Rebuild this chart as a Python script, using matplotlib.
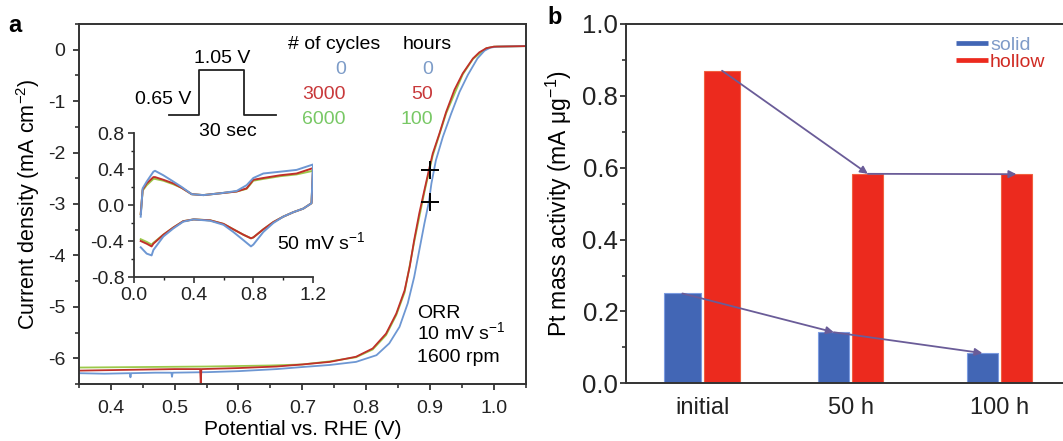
import matplotlib
matplotlib.use("Agg")
import matplotlib.pyplot as plt
from matplotlib.lines import Line2D
from matplotlib.ticker import MultipleLocator

plt.rcParams['font.family'] = ['Liberation Sans', 'DejaVu Sans']
plt.rcParams['mathtext.fontset'] = 'custom'
plt.rcParams['mathtext.rm'] = 'Liberation Sans'
plt.rcParams['mathtext.default'] = 'regular'
plt.rcParams['axes.unicode_minus'] = False

# ---- panel a: ORR polarisation curves ----
lsv_green_x = [0.35, 0.45, 0.55, 0.65, 0.70, 0.743, 0.784, 0.81, 0.831, 0.847, 0.86,
               0.875, 0.891, 0.904, 0.925, 0.951, 0.967, 0.988, 1.0, 1.05]
lsv_green_y = [-6.18, -6.17, -6.16, -6.14, -6.12, -6.06, -5.98, -5.83, -5.55, -5.16, -4.72,
               -3.74, -2.77, -2.06, -1.24, -0.48, -0.18, 0.03, 0.06, 0.07]

lsv_blue_x = [0.35, 0.39, 0.43, 0.431, 0.432, 0.47, 0.495, 0.496, 0.497, 0.55, 0.60, 0.66,
              0.70, 0.743, 0.784, 0.816, 0.836, 0.852, 0.865, 0.875, 0.883, 0.891, 0.898,
              0.902, 0.909, 0.920, 0.933, 0.946, 0.959, 0.974, 0.985, 0.994, 1.005, 1.05]
lsv_blue_y = [-6.29, -6.30, -6.29, -6.37, -6.29, -6.28, -6.28, -6.36, -6.28, -6.27, -6.25, -6.21,
              -6.17, -6.13, -6.07, -5.94, -5.71, -5.39, -4.93, -4.42, -3.90, -3.38, -2.96,
              -2.60, -2.15, -1.69, -1.24, -0.82, -0.49, -0.17, -0.02, 0.04, 0.06, 0.07]

lsv_red_x = [0.35, 0.40, 0.45, 0.50, 0.54, 0.541, 0.542, 0.60, 0.66, 0.70, 0.743, 0.784,
             0.810, 0.831, 0.847, 0.860, 0.868, 0.875, 0.883, 0.891, 0.898, 0.904, 0.9145,
             0.925, 0.938, 0.951, 0.967, 0.977, 0.988, 1.0, 1.05]
lsv_red_y = [-6.24, -6.23, -6.22, -6.21, -6.21, -6.48, -6.21, -6.19, -6.16, -6.12, -6.07, -5.97,
             -5.81, -5.52, -5.13, -4.68, -4.22, -3.70, -3.18, -2.73, -2.34, -2.02, -1.63,
             -1.21, -0.78, -0.46, -0.17, -0.05, 0.03, 0.06, 0.07]

# E1/2 markers
mark_x = [0.9, 0.9]
mark_y = [-2.34, -2.96]

# potential step schematic
step_x = [0.492, 0.539, 0.539, 0.609, 0.609, 0.658]
step_y = [-1.27, -1.27, -0.395, -0.395, -1.27, -1.27]

# inset: cyclic voltammograms
cv_x = [0.045, 0.058, 0.085, 0.13, 0.141, 0.197, 0.264, 0.32, 0.387, 0.465, 0.577, 0.688,
        0.755, 0.80, 0.867, 0.979, 1.09, 1.20, 1.19, 1.135, 1.068, 1.0, 0.934, 0.867, 0.80,
        0.784, 0.733, 0.666, 0.60, 0.51, 0.40, 0.33, 0.264, 0.197, 0.13, 0.118, 0.085, 0.045]
cv_blue = [-0.13, 0.185, 0.26, 0.37, 0.38, 0.33, 0.26, 0.20, 0.12, 0.11, 0.13, 0.156,
           0.22, 0.30, 0.35, 0.37, 0.39, 0.45, 0.02, -0.04, -0.08, -0.13, -0.20, -0.30, -0.44,
           -0.46, -0.39, -0.30, -0.22, -0.175, -0.16, -0.185, -0.26, -0.35, -0.50, -0.56, -0.54, -0.47]
cv_red = [-0.10, 0.17, 0.24, 0.31, 0.31, 0.28, 0.24, 0.19, 0.12, 0.11, 0.13, 0.15,
          0.185, 0.28, 0.30, 0.33, 0.35, 0.41, 0.02, -0.04, -0.08, -0.13, -0.19, -0.27, -0.36,
          -0.37, -0.33, -0.27, -0.21, -0.17, -0.16, -0.18, -0.25, -0.33, -0.43, -0.46, -0.43, -0.40]
cv_green = [-0.10, 0.16, 0.22, 0.29, 0.29, 0.27, 0.23, 0.19, 0.12, 0.11, 0.13, 0.15,
            0.18, 0.27, 0.29, 0.32, 0.34, 0.38, 0.02, -0.04, -0.08, -0.13, -0.19, -0.27, -0.36,
            -0.37, -0.33, -0.27, -0.21, -0.17, -0.16, -0.18, -0.25, -0.33, -0.42, -0.44, -0.41, -0.38]

cycles = ['0', '3000', '6000']
hours = ['0', '50', '100']

# ---- panel b: mass activity ----
categories = ['initial', '50 h', '100 h']
solid = [0.25, 0.142, 0.084]
hollow = [0.87, 0.583, 0.582]

BLUE = '#6d97d3'
RED = '#c0302a'
GREEN = '#9cc94a'
txt_colors = ['#7d9cc8', '#c8383a', '#78c865']

fig = plt.figure(figsize=(10.63, 4.41), dpi=100)

ax = fig.add_axes([78.7 / 1063, 1 - 384 / 441, (526 - 78.7) / 1063, 360 / 441])
ax.plot(lsv_green_x, lsv_green_y, color=GREEN, lw=1.3)
ax.plot(lsv_blue_x, lsv_blue_y, color=BLUE, lw=1.3)
ax.plot(lsv_red_x, lsv_red_y, color=RED, lw=1.3)
ax.plot(mark_x, mark_y, '+', color='k', ms=13, mew=1.4)
ax.plot(step_x, step_y, color='#222222', lw=1.3)
ax.set_xlim(0.35, 1.05)
ax.set_ylim(-6.5, 0.5)
ax.xaxis.set_major_locator(MultipleLocator(0.1))
ax.xaxis.set_minor_locator(MultipleLocator(0.05))
ax.yaxis.set_major_locator(MultipleLocator(1))
ax.yaxis.set_minor_locator(MultipleLocator(0.5))
ax.xaxis.set_major_formatter(matplotlib.ticker.FormatStrFormatter('%.1f'))
ax.tick_params(which='both', direction='out', top=False, right=False, labelsize=14, colors='#222222')
ax.tick_params(axis='x', which='major', length=4.5, width=1.2, pad=7)
ax.tick_params(axis='y', which='major', length=4.5, width=1.2, pad=5)
ax.tick_params(which='minor', length=3, width=1.1)
for s in ax.spines.values():
    s.set_linewidth(1.4)
    s.set_color('#333333')
ax.set_xlabel('Potential vs. RHE (V)', fontsize=15)
ax.set_ylabel('Current density (mA cm$^{-2}$)', fontsize=15.5)
ax.xaxis.set_label_coords(0.5, -0.1)
ax.yaxis.set_label_coords(-0.082, 0.5)

fs = 14
ax.text(0.749, 0.11, '# of cycles', fontsize=fs, ha='center', va='center')
ax.text(0.895, 0.11, 'hours', fontsize=fs, ha='center', va='center')
for i, (c, h) in enumerate(zip(cycles, hours)):
    yy = [-0.38, -0.87, -1.35][i]
    ax.text(0.768, yy, c, fontsize=fs, ha='right', va='center', color=txt_colors[i])
    ax.text(0.904, yy, h, fontsize=fs, ha='right', va='center', color=txt_colors[i])
ax.text(0.574, -0.17, '1.05 V', fontsize=fs, ha='center', va='center')
ax.text(0.527, -0.965, '0.65 V', fontsize=fs, ha='right', va='center')
ax.text(0.583, -1.6, '30 sec', fontsize=fs, ha='center', va='center')
ax.text(0.661, -3.75, '50 mV s$^{-1}$', fontsize=fs, ha='left', va='center')
ax.text(0.879, -5.13, 'ORR', fontsize=fs, ha='left', va='center')
ax.text(0.879, -5.49, '10 mV s$^{-1}$', fontsize=fs, ha='left', va='center')
ax.text(0.879, -5.98, '1600 rpm', fontsize=fs, ha='left', va='center')

# inset
axi = fig.add_axes([134 / 1063, 1 - 277 / 441, 179 / 1063, 144 / 441])
axi.patch.set_alpha(0)
axi.plot(cv_x, cv_green, color=GREEN, lw=1.4)
axi.plot(cv_x, cv_red, color=RED, lw=1.4)
axi.plot(cv_x, cv_blue, color=BLUE, lw=1.4)
axi.set_xlim(0, 1.2)
axi.set_ylim(-0.8, 0.8)
axi.xaxis.set_major_locator(MultipleLocator(0.4))
axi.xaxis.set_minor_locator(MultipleLocator(0.2))
axi.yaxis.set_major_locator(MultipleLocator(0.4))
axi.yaxis.set_minor_locator(MultipleLocator(0.2))
axi.xaxis.set_major_formatter(matplotlib.ticker.FormatStrFormatter('%.1f'))
axi.yaxis.set_major_formatter(matplotlib.ticker.FormatStrFormatter('%.1f'))
for side in ['top', 'right']:
    axi.spines[side].set_visible(False)
for side in ['left', 'bottom']:
    axi.spines[side].set_linewidth(1.3)
    axi.spines[side].set_color('#333333')
axi.tick_params(which='both', direction='out', labelsize=14, colors='#222222')
axi.tick_params(which='major', length=4, width=1.1, pad=3)
axi.tick_params(which='minor', length=2.5, width=1.0)

fig.text(15 / 1063, 1 - 25 / 441, 'a', fontsize=17, fontweight='bold', ha='center', va='center')

# ---- panel b ----
BAR_BLUE = '#4266b5'
BAR_RED = '#ec2a1e'
ARROW = '#6a5c98'
widths = [0.247, 0.209, 0.209]
gap = 0.01

bx_left = 626 / 1063
axb = fig.add_axes([bx_left, 1 - 383.3 / 441, 1 - bx_left, 359.3 / 441])
pos = list(range(len(categories)))
solid_x = [p - w / 2 - gap for p, w in zip(pos, widths)]
hollow_x = [p + w / 2 + gap for p, w in zip(pos, widths)]
axb.bar(solid_x, solid, width=widths, color=BAR_BLUE, edgecolor='#7b9be0', lw=0.8, label='solid')
axb.bar(hollow_x, hollow, width=widths, color=BAR_RED, edgecolor='#f06040', lw=0.8, label='hollow')

arrow_kw = dict(arrowstyle='-|>', color=ARROW, lw=1.3, mutation_scale=11, shrinkA=0, shrinkB=0)
for xs, ys in [(hollow_x, hollow), (solid_x, solid)]:
    for i in range(len(xs) - 1):
        axb.annotate('', xy=(xs[i + 1], ys[i + 1]), xytext=(xs[i], ys[i]), arrowprops=arrow_kw)

axb.set_xlim(-0.513, -0.513 + (1063 - 626) / 148.6)
axb.set_ylim(0, 1.0)
axb.set_xticks(pos)
axb.set_xticklabels(categories, fontsize=17)
axb.yaxis.set_major_locator(MultipleLocator(0.2))
axb.yaxis.set_minor_locator(MultipleLocator(0.1))
axb.yaxis.set_major_formatter(matplotlib.ticker.FormatStrFormatter('%.1f'))
axb.tick_params(axis='x', length=0, pad=10, colors='#222222')
axb.tick_params(axis='y', which='both', direction='out', labelsize=18.5, colors='#222222', pad=1)
axb.tick_params(axis='y', which='major', length=4.5, width=1.2)
axb.tick_params(axis='y', which='minor', length=3, width=1.1)
axb.spines['right'].set_visible(False)
for side in ['left', 'bottom', 'top']:
    axb.spines[side].set_linewidth(1.4)
    axb.spines[side].set_color('#333333')
axb.set_ylabel('Pt mass activity (mA \u03bcg$^{-1}$)', fontsize=16.5)
axb.yaxis.set_label_coords(-0.12, 0.5)

handles = [Line2D([], [], color=BAR_BLUE, lw=3.4, solid_capstyle='butt'),
           Line2D([], [], color=BAR_RED, lw=3.4, solid_capstyle='butt')]
axb.legend(handles, ['solid', 'hollow'], loc='upper left', frameon=False, fontsize=14,
           labelcolor=['#7f9bc8', '#d02a22'], handlelength=1.65, handletextpad=0.1,
           labelspacing=0.0, borderpad=0, borderaxespad=0,
           bbox_to_anchor=(956 / 1063, 1 - 36 / 441), bbox_transform=fig.transFigure)

fig.text(555 / 1063, 1 - 17 / 441, 'b', fontsize=17, fontweight='bold', ha='center', va='center')

fig.savefig('out.png', dpi=100)
